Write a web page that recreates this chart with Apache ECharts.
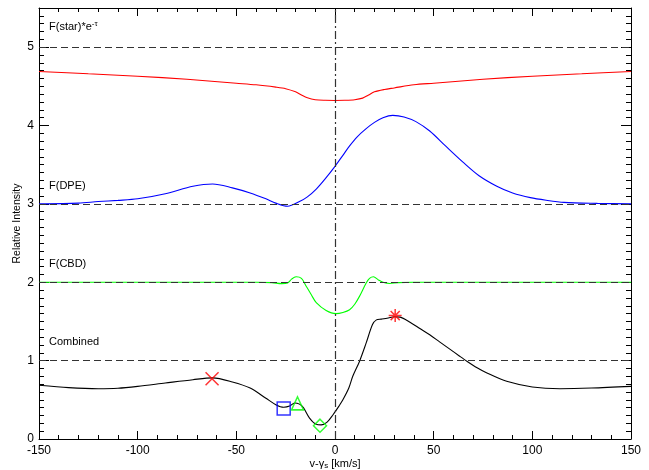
<!DOCTYPE html>
<html>
<head>
<meta charset="utf-8">
<script src="https://cdn.jsdelivr.net/npm/echarts@6/dist/echarts.min.js"></script>
<style>
  html, body { margin: 0; padding: 0; background: #fff; }
  #main { width: 649px; height: 470px; }
</style>
</head>
<body>
<div id="main"></div>
<script>
// F(star)*e^-tau
var starX = [-150, -125, -100, -75, -50, -40, -30, -25, -20, -17, -14, -10, -5, 0, 5, 10, 14, 17, 20, 25, 30, 40, 50, 75, 100, 125, 150];
var starY = [4.69, 4.66, 4.63, 4.59, 4.54, 4.52, 4.49, 4.47, 4.43, 4.39, 4.355, 4.33, 4.322, 4.32, 4.322, 4.33, 4.35, 4.39, 4.43, 4.46, 4.48, 4.52, 4.54, 4.59, 4.63, 4.66, 4.69];

// F(DPE)
var dpeX = [-150, -130, -120, -110, -100, -86, -72, -62, -52, -43, -35, -30, -24, -18, -14, -9.5, -5, 0, 4, 7.4, 11, 15.8, 20, 24.3, 29.3, 35, 41, 48, 56, 65, 73, 82, 90, 99, 107, 116, 133, 150];
var dpeY = [3.0, 3.01, 3.03, 3.045, 3.065, 3.13, 3.225, 3.255, 3.205, 3.14, 3.065, 3.01, 2.97, 3.03, 3.09, 3.19, 3.32, 3.48, 3.62, 3.74, 3.85, 3.96, 4.04, 4.10, 4.13, 4.11, 4.05, 3.93, 3.74, 3.53, 3.36, 3.226, 3.14, 3.08, 3.047, 3.02, 3.007, 3.0];

// F(CBD)
var cbdX = [-150, -40, -32, -27, -24, -22, -19.7, -17, -14.6, -12, -9.5, -4.5, 0.5, 4, 7.4, 10, 12.4, 15.8, 17.5, 19.5, 22, 24.3, 27.7, 32, 40, 150];
var cbdY = [2.0, 2.0, 1.995, 1.983, 1.99, 2.04, 2.07, 2.05, 1.95, 1.84, 1.74, 1.64, 1.60, 1.615, 1.65, 1.72, 1.82, 1.99, 2.05, 2.07, 2.03, 2.0, 1.985, 1.995, 2.0, 2.0];

// Combined
var combX = [-150, -135, -120, -110, -100, -86, -72, -62, -52, -43, -35, -30, -26, -23, -20.5, -18, -16, -13, -9.5, -7, -4, -1, 2, 4, 7, 9, 12.4, 15.8, 19, 21, 23.5, 27, 30, 33, 38, 43, 48, 53, 58, 63, 67, 72, 77, 87, 100, 114, 130, 150];
var combY = [0.685, 0.655, 0.642, 0.648, 0.672, 0.715, 0.757, 0.78, 0.728, 0.65, 0.52, 0.438, 0.405, 0.42, 0.46, 0.445, 0.40, 0.27, 0.187, 0.18, 0.215, 0.31, 0.42, 0.50, 0.65, 0.80, 0.99, 1.226, 1.46, 1.52, 1.53, 1.545, 1.56, 1.555, 1.49, 1.41, 1.33, 1.24, 1.15, 1.06, 0.99, 0.91, 0.843, 0.736, 0.664, 0.642, 0.65, 0.672];

// markers on the combined profile: x, square, triangle, diamond, asterisk
var markerX = [-62.3, -26, -19, -7.6, 30.5];
var markerY = [0.77, 0.39, 0.455, 0.17, 1.575];

var baselineLevels = [1, 2, 3, 5];
var xTicks = { min: -150, max: 150, step: 50 };
var yTicks = { min: 0, max: 5.5, step: 1 };

function pairs(xs, ys) {
    return xs.map(function (x, i) { return [x, ys[i]]; });
}

var FONT = 'Liberation Sans';
var chart = echarts.init(document.getElementById('main'));

var xBase = {
    type: 'value',
    min: xTicks.min,
    max: xTicks.max,
    interval: xTicks.step,
    axisLine: { onZero: false, lineStyle: { color: '#000', width: 1 } },
    axisTick: { inside: true, length: 8, lineStyle: { color: '#000' } },
    minorTick: { show: true, splitNumber: 5, length: 4, lineStyle: { color: '#000' } },
    splitLine: { show: false },
    axisLabel: { color: '#000', fontFamily: FONT, fontSize: 12, margin: 6 }
};
var yBase = {
    type: 'value',
    min: yTicks.min,
    max: yTicks.max,
    interval: yTicks.step,
    axisLine: { onZero: false, lineStyle: { color: '#000', width: 1 } },
    axisTick: { inside: true, length: 10, lineStyle: { color: '#000' } },
    minorTick: { show: true, splitNumber: 10, length: 5, lineStyle: { color: '#000' } },
    splitLine: { show: false },
    axisLabel: { color: '#000', fontFamily: FONT, fontSize: 12, margin: 5, showMaxLabel: false }
};

var dashStyle = { color: '#333', width: 1.2, type: [7, 4] };

function markerSeries(i, symbol, size, color) {
    return {
        type: 'scatter',
        data: [[markerX[i], markerY[i]]],
        symbol: symbol,
        symbolSize: size,
        itemStyle: { color: 'rgba(0,0,0,0)', borderColor: color, borderWidth: 1.5 },
        z: 5,
        silent: true
    };
}

function curve(name, xs, ys, color) {
    return {
        name: name, type: 'line', data: pairs(xs, ys),
        smooth: 0.3,
        showSymbol: false, lineStyle: { color: color, width: 1.1 }, z: 3
    };
}

var option = {
    animation: false,
    backgroundColor: '#fff',
    grid: { left: 39, right: 18, top: 8, bottom: 31, outerBoundsMode: 'none' },
    xAxis: [
        Object.assign({}, xBase, {
            position: 'bottom',
            name: 'v-γ{s|s} [km/s]',
            nameLocation: 'middle',
            nameGap: 18,
            nameMoveOverlap: false,
            nameTextStyle: {
                color: '#000', fontFamily: FONT, fontSize: 11,
                rich: { s: { fontSize: 8, fontFamily: FONT, color: '#000', padding: [5, 0, 0, 0] } }
            }
        }),
        Object.assign({}, xBase, { position: 'top', axisLabel: { show: false } })
    ],
    yAxis: [
        Object.assign({}, yBase, {
            position: 'left',
            name: 'Relative Intensity',
            nameLocation: 'middle',
            nameGap: 16,
            nameMoveOverlap: false,
            nameTextStyle: { color: '#000', fontFamily: FONT, fontSize: 10.5 }
        }),
        Object.assign({}, yBase, { position: 'right', axisLabel: { show: false } })
    ],
    series: [
        {
            name: 'refs',
            type: 'line',
            data: [],
            markLine: {
                silent: true,
                symbol: 'none',
                label: { show: false },
                lineStyle: dashStyle,
                data: baselineLevels.map(function (v) { return { yAxis: v }; }).concat([
                    { xAxis: 0, lineStyle: { color: '#333', width: 1.2, type: [8, 3, 2, 3] } }
                ])
            }
        },
        curve('F(star)', starX, starY, '#ff0000'),
        curve('F(DPE)', dpeX, dpeY, '#0000ff'),
        curve('F(CBD)', cbdX, cbdY, '#00ff00'),
        curve('Combined', combX, combY, '#000'),
        markerSeries(0, 'path://M0 0L10 10M10 0L0 10', 13, '#ff0000'),
        markerSeries(1, 'rect', 13, '#0000ff'),
        markerSeries(2, 'triangle', [12, 13], '#00ff00'),
        markerSeries(3, 'diamond', [13, 13], '#00ff00'),
        markerSeries(4, 'path://M5 0L5 10M0 5L10 5M1.5 1.5L8.5 8.5M8.5 1.5L1.5 8.5', 13, '#ff0000')
    ],
    graphic: [
        {
            type: 'text', left: 49, top: 20,
            style: {
                text: 'F(star)*e{sup|-τ}', fill: '#000', font: '11px ' + FONT,
                rich: { sup: { fontSize: 8, fontFamily: FONT, fill: '#000', padding: [0, 0, 6, 0] } }
            }
        },
        { type: 'text', left: 49, top: 180, style: { text: 'F(DPE)', fill: '#000', font: '11px ' + FONT } },
        { type: 'text', left: 49, top: 258, style: { text: 'F(CBD)', fill: '#000', font: '11px ' + FONT } },
        { type: 'text', left: 49, top: 336, style: { text: 'Combined', fill: '#000', font: '11px ' + FONT } }
    ]
};

chart.setOption(option);
</script>
</body>
</html>
